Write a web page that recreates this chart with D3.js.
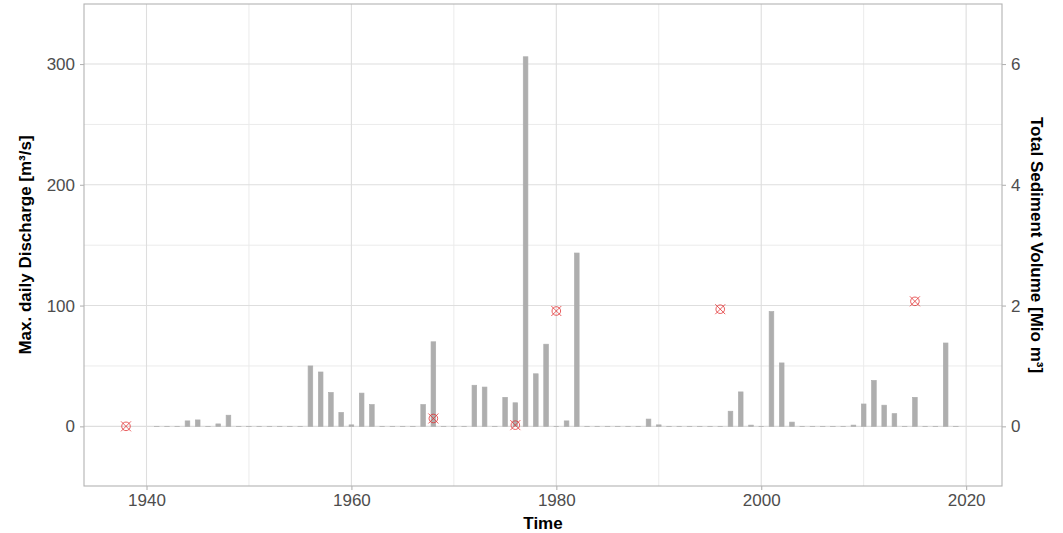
<!DOCTYPE html>
<html>
<head>
<meta charset="utf-8">
<script src="https://cdn.jsdelivr.net/npm/d3@7"></script>
<style>
  body { margin: 0; background: #fff; }
  text { font-family: "Liberation Sans", Arial, sans-serif; }
</style>
</head>
<body>
<script>
// data
const years = d3.range(1941, 2020);
const discharge = [
  0, 0, 0, 4.5, 5.3, 0, 2, 9.2, 0, 0,          // 1941-1950
  0, 0, 0, 0, 0, 50, 45, 28, 11.5, 1.2,         // 1951-1960
  27.5, 18, 0, 0, 0, 0, 18, 70, 0, 0,           // 1961-1970
  0, 34, 32.5, 0, 24, 19.5, 306, 43.5, 68, 0,   // 1971-1980
  4.5, 143.5, 0, 0, 0, 0, 0, 0, 6, 1.2,         // 1981-1990
  0, 0, 0, 0, 0, 0, 12.5, 28.5, 1, 0,           // 1991-2000
  95, 52.5, 3.5, 0, 0, 0, 0, 0, 1, 18.5,        // 2001-2010
  38, 17.5, 10.5, 0, 24, 0, 0, 69, 0            // 2011-2019
];
const sedYears = [1938, 1968, 1976, 1980, 1996, 2015];
const sediment = [0, 0.13, 0.02, 1.91, 1.94, 2.07];
const leftTicks = [0, 100, 200, 300];
const rightTicks = [0, 2, 4, 6];
const xTicks = [1940, 1960, 1980, 2000, 2020];
const xMinor = [1950, 1970, 1990, 2010];
const yMinor = [50, 150, 250];
const ratio = 50; // 1 Mio m3 = 50 m3/s on the secondary axis

const w = 1063, h = 533;
const pLeft = 84, pRight = 1002, pTop = 4, pBottom = 486;
const grey = "#AEAEAE";

const svg = d3.select("body").append("svg").attr("width", w).attr("height", h);

const x = d3.scaleLinear().domain([1933.9, 2023.5]).range([pLeft, pRight]);
const y = d3.scaleLinear().domain([-49.4, 349.7]).range([pBottom, pTop]);
const y2 = d3.scaleLinear().domain(y.domain().map(d => d / ratio)).range([pBottom, pTop]);

// grid
const grid = svg.append("g");
grid.selectAll(".xminor").data(xMinor).enter().append("line")
  .attr("x1", d => x(d)).attr("x2", d => x(d)).attr("y1", pTop).attr("y2", pBottom)
  .attr("stroke", "#EBEBEB").attr("stroke-width", 1);
grid.selectAll(".yminor").data(yMinor).enter().append("line")
  .attr("y1", d => y(d)).attr("y2", d => y(d)).attr("x1", pLeft).attr("x2", pRight)
  .attr("stroke", "#EBEBEB").attr("stroke-width", 1);
grid.selectAll(".xmajor").data(xTicks).enter().append("line")
  .attr("x1", d => x(d)).attr("x2", d => x(d)).attr("y1", pTop).attr("y2", pBottom)
  .attr("stroke", "#DEDEDE").attr("stroke-width", 1.1);
grid.selectAll(".ymajor").data(leftTicks).enter().append("line")
  .attr("y1", d => y(d)).attr("y2", d => y(d)).attr("x1", pLeft).attr("x2", pRight)
  .attr("stroke", "#DEDEDE").attr("stroke-width", 1.1);

// bars (zero years still show as a thin outline, like the original)
const bw = 0.45;
svg.append("g").selectAll("rect").data(years).enter().append("rect")
  .attr("x", (d) => x(d - bw / 2))
  .attr("width", (d) => x(d + bw / 2) - x(d - bw / 2))
  .attr("y", (d, i) => y(discharge[i]))
  .attr("height", (d, i) => Math.max(y(0) - y(discharge[i]), 0.1))
  .attr("fill", grey)
  .attr("stroke", grey)
  .attr("stroke-width", 0.7);

// sediment markers (circle with cross)
const pts = svg.append("g").selectAll("g").data(sedYears).enter().append("g")
  .attr("transform", (d, i) => "translate(" + x(d) + "," + y2(sediment[i]) + ")")
  .attr("stroke", "#E0282A").attr("stroke-opacity", 0.75).attr("fill", "none").attr("stroke-width", 1);
pts.append("circle").attr("r", 4.3);
pts.append("path").attr("d", "M-5,-5L5,5M-5,5L5,-5");

// panel border
svg.append("rect").attr("x", pLeft).attr("y", pTop).attr("width", pRight - pLeft).attr("height", pBottom - pTop)
  .attr("fill", "none").attr("stroke", "#B3B3B3").attr("stroke-width", 1.1);

// axes
const styleAxis = (g) => {
  g.select(".domain").remove();
  g.selectAll(".tick line").attr("stroke", "#B3B3B3").attr("stroke-width", 1.1);
  g.selectAll(".tick text").attr("fill", "#4D4D4D").style("font-size", "17px");
};
svg.append("g").attr("transform", "translate(" + pLeft + ",0)")
  .call(d3.axisLeft(y).tickValues(leftTicks).tickSize(4).tickPadding(5))
  .call(styleAxis);
svg.append("g").attr("transform", "translate(" + pRight + ",0)")
  .call(d3.axisRight(y2).tickValues(rightTicks).tickSize(4).tickPadding(5))
  .call(styleAxis);
svg.append("g").attr("transform", "translate(0," + pBottom + ")")
  .call(d3.axisBottom(x).tickValues(xTicks).tickFormat(d3.format("d")).tickSize(4).tickPadding(4))
  .call(styleAxis);

// titles
svg.append("text").text("Time")
  .attr("x", (pLeft + pRight) / 2).attr("y", 529)
  .attr("text-anchor", "middle").attr("font-weight", "bold").attr("font-size", "17px").attr("fill", "#000");
svg.append("text").text("Max. daily Discharge [m³/s]")
  .attr("transform", "translate(31," + (pTop + pBottom) / 2 + ") rotate(-90)")
  .attr("text-anchor", "middle").attr("font-weight", "bold").attr("font-size", "17px").attr("fill", "#000");
svg.append("text").text("Total Sediment Volume [Mio m³]")
  .attr("transform", "translate(1031," + (pTop + pBottom) / 2 + ") rotate(90)")
  .attr("text-anchor", "middle").attr("font-weight", "bold").attr("font-size", "17px").attr("fill", "#000");
</script>
</body>
</html>
